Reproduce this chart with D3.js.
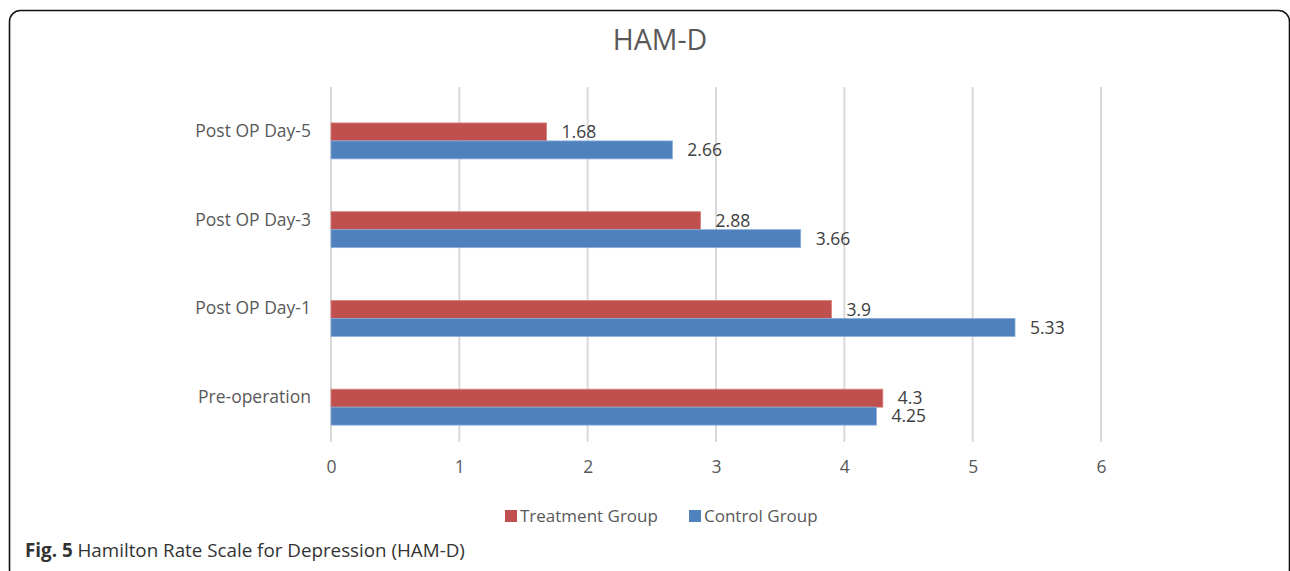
<!DOCTYPE html>
<html>
<head>
<meta charset="utf-8">
<script src="https://cdn.jsdelivr.net/npm/d3@7"></script>
<style>
  body { margin: 0; background: #fff; }
  svg text { font-family: "Open Sans", "Noto Sans", sans-serif; }
</style>
</head>
<body>
<svg id="chart" width="1290" height="571"></svg>
<script>
// chart data
const categories = ['Post OP Day-5', 'Post OP Day-3', 'Post OP Day-1', 'Pre-operation'];
const seriesNames = ['Treatment Group', 'Control Group'];
const treatment = [1.68, 2.88, 3.9, 4.3];
const control = [2.66, 3.66, 5.33, 4.25];
const xTicks = [0, 1, 2, 3, 4, 5, 6];
const colors = ['#C0504D', '#4F81BD'];

const svg = d3.select('#chart');

// frame around the figure
svg.append('rect')
  .attr('x', 9.5).attr('y', 10.5)
  .attr('width', 1280).attr('height', 570)
  .attr('rx', 11)
  .attr('fill', 'none')
  .attr('stroke', '#111')
  .attr('stroke-width', 1.6);

const margin = { top: 87, left: 331, right: 1101, bottom: 442 };

const x = d3.scaleLinear()
  .domain([0, 6])
  .range([margin.left, margin.right]);

const y = d3.scaleBand()
  .domain(categories)
  .range([margin.top, margin.bottom]);

// bars sit a little below the middle of each band
const ySub = d3.scaleBand()
  .domain(seriesNames)
  .range([y.bandwidth() * 0.405, y.bandwidth() * 0.81]);

// gridlines
svg.append('g')
  .selectAll('line')
  .data(xTicks)
  .join('line')
  .attr('x1', d => x(d)).attr('x2', d => x(d))
  .attr('y1', margin.top).attr('y2', margin.bottom)
  .attr('stroke', '#d9d9d9')
  .attr('stroke-width', 2);

// x axis labels
const xAxis = d3.axisBottom(x).tickValues(xTicks).tickFormat(d3.format('d')).tickSize(0).tickPadding(0);
svg.append('g')
  .attr('transform', `translate(0, ${margin.bottom + 19})`)
  .call(xAxis)
  .call(g => g.select('.domain').remove())
  .call(g => g.selectAll('text')
    .attr('fill', '#595959')
    .attr('font-size', 17.5)
    .attr('dy', '0.71em'));

// category labels
const yAxis = d3.axisLeft(y).tickSize(0).tickPadding(20);
svg.append('g')
  .attr('transform', `translate(${margin.left}, 0)`)
  .call(yAxis)
  .call(g => g.select('.domain').remove())
  .call(g => g.selectAll('text')
    .attr('fill', '#595959')
    .attr('font-size', 17.5));

// bars
const rows = categories.map((c, i) => ({
  category: c,
  values: [
    { name: seriesNames[0], value: treatment[i] },
    { name: seriesNames[1], value: control[i] }
  ]
}));

const groups = svg.append('g')
  .selectAll('g')
  .data(rows)
  .join('g')
  .attr('transform', d => `translate(0, ${y(d.category)})`);

groups.selectAll('rect')
  .data(d => d.values)
  .join('rect')
  .attr('x', x(0))
  .attr('y', d => ySub(d.name))
  .attr('width', d => x(d.value) - x(0))
  .attr('height', ySub.bandwidth())
  .attr('fill', (d, i) => colors[i])
  .attr('stroke', (d, i) => i === 0 ? '#d9817e' : '#8aaedb')
  .attr('stroke-width', 0.8);

// data labels
groups.selectAll('text')
  .data(d => d.values)
  .join('text')
  .attr('x', d => x(d.value) + 15)
  .attr('y', d => ySub(d.name) + ySub.bandwidth() / 2)
  .attr('dy', '0.35em')
  .attr('fill', '#404040')
  .attr('font-size', 17.5)
  .text(d => d.value);

// title
svg.append('text')
  .attr('x', 660)
  .attr('y', 40)
  .attr('text-anchor', 'middle')
  .attr('dy', '0.35em')
  .attr('fill', '#595959')
  .attr('font-size', 28.5)
  .text('HAM-D');

// legend
const legend = svg.append('g')
  .attr('transform', 'translate(505, 516)');

const legendX = [0, 184];
seriesNames.forEach((name, i) => {
  const item = legend.append('g').attr('transform', `translate(${legendX[i]}, 0)`);
  item.append('rect')
    .attr('x', 0).attr('y', -6)
    .attr('width', 12).attr('height', 12)
    .attr('fill', colors[i]);
  item.append('text')
    .attr('x', 15)
    .attr('dy', '0.35em')
    .attr('fill', '#595959')
    .attr('font-size', 17)
    .text(name);
});

// caption
const caption = svg.append('text')
  .attr('x', 25)
  .attr('y', 557)
  .attr('fill', '#333')
  .attr('font-size', 18.8);
caption.append('tspan').attr('font-weight', 'bold').text('Fig. 5');
caption.append('tspan').text(' Hamilton Rate Scale for Depression (HAM-D)');
</script>
</body>
</html>
